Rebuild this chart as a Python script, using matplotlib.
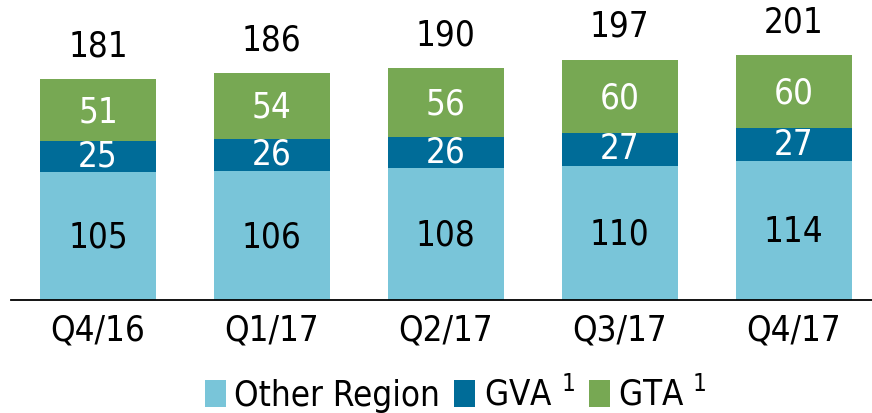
import matplotlib
matplotlib.use("Agg")
import matplotlib.pyplot as plt
from matplotlib import font_manager

quarters = ["Q4/16", "Q1/17", "Q2/17", "Q3/17", "Q4/17"]
other_region = [105, 106, 108, 110, 114]
gva = [25, 26, 26, 27, 27]
gta = [51, 54, 56, 60, 60]
totals = [181, 186, 190, 197, 201]

names = {f.name for f in font_manager.fontManager.ttflist}
fam = "Liberation Sans Narrow" if "Liberation Sans Narrow" in names else "DejaVu Sans"
plt.rcParams["font.family"] = [fam, "DejaVu Sans"]
plt.rcParams["font.stretch"] = "condensed"

c_light = "#79C5D9"
c_dark = "#006C98"
c_green = "#77A853"

fig = plt.figure(figsize=(8.72, 4.13), dpi=100)
ax = fig.add_axes([11 / 872, 113 / 413, 1 - 11 / 872, 300 / 413])

x = range(len(quarters))
w = 0.665
b1 = ax.bar(x, other_region, w, color=c_light, label="Other Region")
b2 = ax.bar(x, gva, w, bottom=other_region, color=c_dark, label="GVA $^1$")
bot3 = [a + b for a, b in zip(other_region, gva)]
b3 = ax.bar(x, gta, w, bottom=bot3, color=c_green, label="GTA $^1$")

fs = 25
for i in x:
    ax.text(i, other_region[i] / 2 - 1.5, str(other_region[i]), ha="center", va="center",
            fontsize=fs, color="black")
    ax.text(i, other_region[i] + gva[i] / 2, str(gva[i]), ha="center", va="center",
            fontsize=fs, color="white")
    ax.text(i, bot3[i] + gta[i] / 2 - 1.5, str(gta[i]), ha="center", va="center",
            fontsize=fs, color="white")
    ax.text(i, totals[i] + 13, str(totals[i]), ha="center", va="bottom",
            fontsize=fs, color="black")

ax.set_xlim(-0.5, 4.45)
ax.set_ylim(0, 246)
ax.set_xticks(list(x))
ax.set_xticklabels(quarters, fontsize=fs)
ax.tick_params(axis="x", length=0, pad=10)
ax.set_yticks([])
for s in ["top", "right", "left"]:
    ax.spines[s].set_visible(False)
ax.spines["bottom"].set_linewidth(1.3)

fig.legend(handles=[b1, b2, b3], loc="center", bbox_to_anchor=(0.523, 0.045),
           ncol=3, frameon=False, fontsize=fs, handlelength=0.6, handleheight=0.8,
           handletextpad=0.25, columnspacing=0.4)

fig.savefig("out.png", dpi=100)
